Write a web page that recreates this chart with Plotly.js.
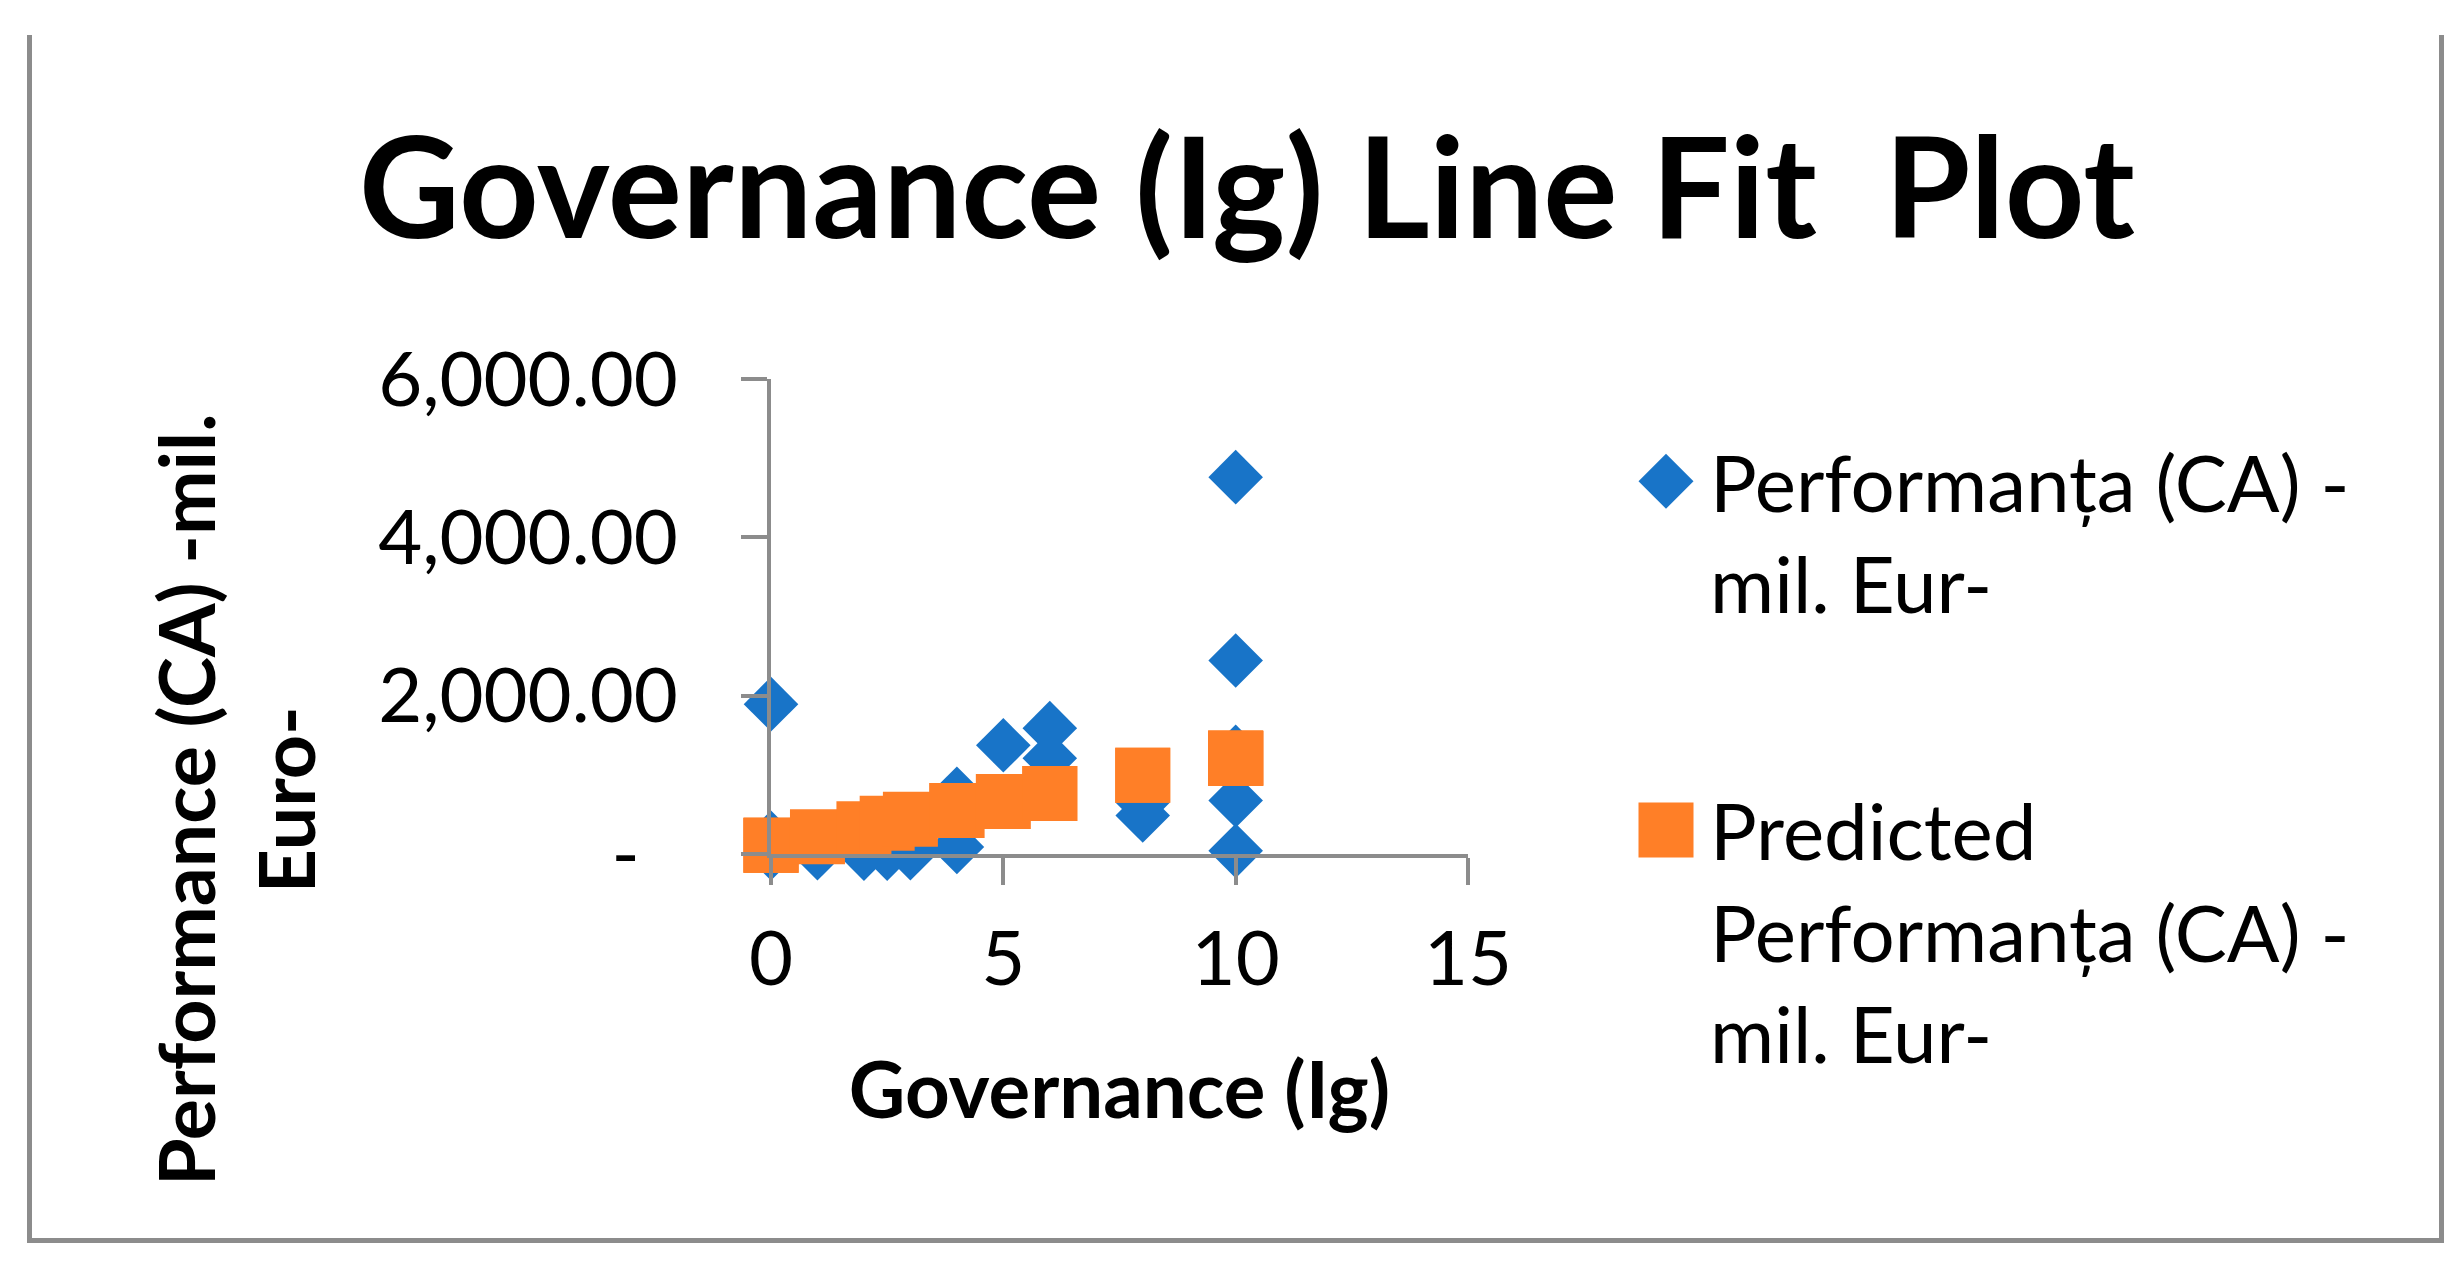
<!DOCTYPE html>
<html>
<head>
<meta charset="utf-8">
<script src="https://cdn.plot.ly/plotly-3.0.1.min.js"></script>
<style>
  html, body { margin: 0; padding: 0; background: #ffffff; }
  #chart { width: 2462px; height: 1268px; }
</style>
</head>
<body>
<div id="chart"></div>
<script>
// ---- data ----
const governance  = [0, 0, 0, 1, 2, 2.5, 3, 4, 4, 5, 6, 6, 8, 8, 10, 10, 10, 10, 10];
const performanta = [1893, 204, 10, 10, 5, 5, 10, 760, 90, 1373, 1590, 1210, 650, 487, 4760, 2444, 1290, 676, 40];
const predicted   = [111, 111, 111, 218, 320, 387, 440, 551, 551, 662, 764, 764, 996, 996, 1209, 1209, 1209, 1209, 1209];

const seriesNames = [
  'Performanța (CA) -<br>mil. Eur-',
  'Predicted<br>Performanța (CA) -<br>mil. Eur-'
];
const xTickVals = [0, 5, 10, 15];
const yTickVals = [0, 2000, 4000, 6000];
const yTickText = ['-\u2002', '2,000.00', '4,000.00', '6,000.00'];
const chartTitle = 'Governance (Ig) Line Fit\u00a0 Plot';
const xTitle = 'Governance (Ig)';
const yTitle = 'Performance (CA) -mil.<br>Euro-';

// ---- styling ----
const W = 2462, H = 1268;
const M = { l: 771, r: 994, t: 379, b: 414 };
const plotW = W - M.l - M.r, plotH = H - M.t - M.b;
const px2x = px => (px - M.l) / plotW;
const py2y = py => (H - M.b - py) / plotH;
const FONT = 'Lato, "Open Sans", sans-serif';
const GRAY = '#8c8c8c';
const BLUE = '#1874c8';
const ORANGE = '#ff7f27';

const traces = [
  {
    type: 'scatter', mode: 'markers',
    x: governance, y: performanta,
    name: seriesNames[0], legendgroup: 'a',
    marker: { symbol: 'diamond', size: 42, color: BLUE, line: { width: 0 } },
    cliponaxis: false
  },
  {
    type: 'scatter', mode: 'markers',
    x: governance, y: predicted,
    name: seriesNames[1], legendgroup: 'b',
    marker: { symbol: 'square', size: 55, color: ORANGE, line: { width: 0 } },
    cliponaxis: false
  }
];

const borderPath = 'M ' + px2x(29.5) + ',' + py2y(35) +
  ' L ' + px2x(29.5) + ',' + py2y(1240.5) +
  ' L ' + px2x(2441.5) + ',' + py2y(1240.5) +
  ' L ' + px2x(2441.5) + ',' + py2y(35);

const layout = {
  width: W, height: H,
  margin: { l: M.l, r: M.r, t: M.t, b: M.b, pad: 0 },
  paper_bgcolor: '#ffffff', plot_bgcolor: '#ffffff',
  font: { family: FONT, color: '#000000', size: 76 },
  title: {
    text: chartTitle,
    font: { family: FONT, size: 139, weight: 'bold', color: '#000000' },
    xref: 'container', x: 1247 / W, xanchor: 'center',
    yref: 'container', y: 1 - 189 / H, yanchor: 'middle'
  },
  xaxis: {
    range: [0, 15], tickvals: xTickVals, ticktext: xTickVals.map(String),
    ticks: 'outside', ticklen: 27, tickwidth: 4, tickcolor: GRAY,
    showline: true, linecolor: GRAY, linewidth: 4,
    showgrid: false, zeroline: false, automargin: false,
    ticklabelstandoff: 9,
    tickfont: { family: FONT, size: 76, color: '#000000' },
    title: { text: xTitle, font: { family: FONT, size: 78, weight: 'bold', color: '#000000' }, standoff: 64 }
  },
  yaxis: {
    range: [0, 6000], tickvals: yTickVals, ticktext: yTickText,
    ticks: 'outside', ticklen: 26, tickwidth: 4, tickcolor: GRAY,
    showline: true, linecolor: GRAY, linewidth: 4,
    showgrid: false, zeroline: false, automargin: false,
    ticklabelstandoff: 48,
    tickfont: { family: FONT, size: 76, color: '#000000' }
  },
  showlegend: true,
  legend: {
    xref: 'container', yref: 'container',
    x: 1622 / W, xanchor: 'left',
    y: 1 - 424 / H, yanchor: 'top',
    maxheight: 1200,
    bgcolor: 'rgba(0,0,0,0)', borderwidth: 0,
    font: { family: FONT, size: 78, color: '#000000' },
    traceorder: 'grouped', tracegroupgap: 143,
    valign: 'top', itemwidth: 78, itemclick: false, itemdoubleclick: false
  },
  annotations: [
    {
      text: yTitle, textangle: -90, showarrow: false,
      xref: 'paper', yref: 'paper',
      x: px2x(235), y: py2y(800), xanchor: 'center', yanchor: 'middle',
      font: { family: FONT, size: 77, weight: 'bold', color: '#000000' }
    }
  ],
  shapes: [
    { type: 'path', xref: 'paper', yref: 'paper', path: borderPath,
      line: { color: GRAY, width: 5 }, layer: 'below' }
  ]
};

const gd = document.getElementById('chart');
const legendScale = [55 / (16 * 1.3), 55 / 16];
function enlargeLegendSymbols() {
  const items = gd.querySelectorAll('.legend .traces');
  items.forEach((g, i) => {
    const p = g.querySelector('.legendpoints path.scatterpts');
    if (!p) return;
    if (!p.dataset.base) p.dataset.base = p.getAttribute('transform') || '';
    p.setAttribute('transform', p.dataset.base + ' scale(' + legendScale[i % 2] + ')');
  });
}
Plotly.newPlot(gd, traces, layout, { displayModeBar: false, responsive: false }).then(() => {
  enlargeLegendSymbols();
  gd.on('plotly_afterplot', enlargeLegendSymbols);
});
</script>
</body>
</html>
